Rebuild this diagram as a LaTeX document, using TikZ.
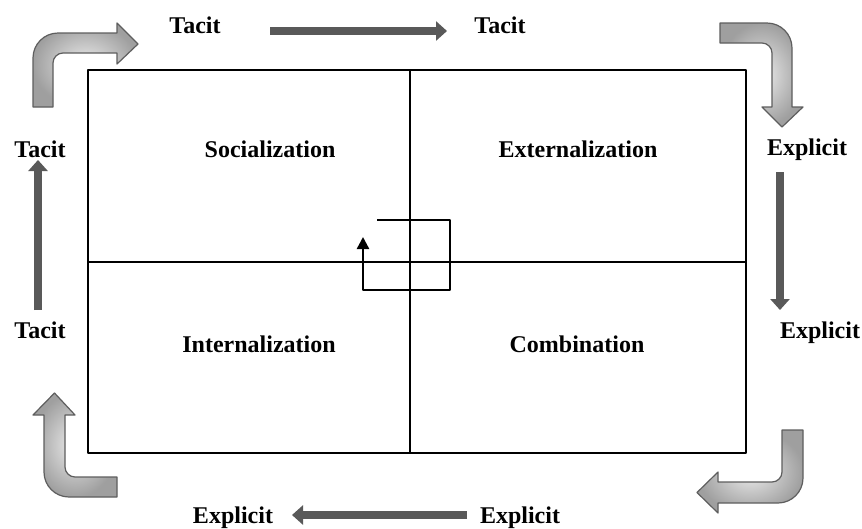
\documentclass[tikz,border=0pt]{standalone}
\usepackage{fontspec}
\setmainfont{Liberation Serif}
\usetikzlibrary{arrows.meta}
\definecolor{flowgray}{HTML}{595959}
\definecolor{bendrim}{HTML}{5E5E5E}

\tikzset{
  lbl/.style={font=\fontsize{24}{28}\selectfont\bfseries, inner sep=0pt, anchor=base},
  flow/.style={draw=flowgray, line width=8pt, -{Triangle[length=11pt,width=19pt]}},
  bendarrow/.style={draw=bendrim, line width=1.2pt, inner color=gray!15, outer color=gray!75},
  grid/.style={line width=2.6pt},
}

\begin{document}
\begin{tikzpicture}[x=1pt,y=-1pt,line join=round]
    \fill[white] (0,0) rectangle (862,527);
    % matrix
    \draw[grid] (88,70) rectangle (746,453);
    \draw[grid] (410,70) -- (410,453);
    \draw[grid] (88,262) -- (746,262);
    % spiral
    \draw[line width=2.4pt,-{Triangle[length=12pt,width=12pt]}] (377,220) -- (450,220) -- (450,290) -- (363,290) -- (363,237);
    % quadrant names
    \node[lbl] (soc) at (270,157) {Socialization};
    \node[lbl] (ext) at (578,157) {Externalization};
    \node[lbl] (intl) at (259,352) {Internalization};
    \node[lbl] (comb) at (577,352) {Combination};
    % side labels
    \node[lbl] (tacitTL) at (195,33) {Tacit};
    \node[lbl] (tacitTR) at (500,33) {Tacit};
    \node[lbl] (explRT) at (807,155) {Explicit};
    \node[lbl] (explRB) at (820,338) {Explicit};
    \node[lbl] (explBR) at (520,523) {Explicit};
    \node[lbl] (explBL) at (233,523) {Explicit};
    \node[lbl] (tacitLB) at (40,338) {Tacit};
    \node[lbl] (tacitLT) at (40,157) {Tacit};
    % straight flows
    \coordinate (topA) at (270,31);   \coordinate (topB) at (447,31);
    \coordinate (rgtA) at (780,172);  \coordinate (rgtB) at (780,310);
    \coordinate (botA) at (467,515);  \coordinate (botB) at (292,515);
    \coordinate (lftA) at (38,310);   \coordinate (lftB) at (38,160);
    \draw[flow] (topA) -- (topB);
    \draw[flow] (rgtA) -- (rgtB);
    \draw[flow] (botA) -- (botB);
    \draw[flow] (lftA) -- (lftB);
    % bent block arrows at the corners
    \shadedraw[bendarrow] (33,107) -- (33,58) .. controls (33,44.2) and (44.2,33) .. (58,33)
      -- (117,33) -- (117,23) -- (138,44) -- (117,64) -- (117,53) -- (63,53)
      .. controls (57.5,53) and (53,57.5) .. (53,63) -- (53,107) -- cycle;
    \shadedraw[bendarrow] (720,23) -- (767,23) .. controls (780.8,23) and (792,34.2) .. (792,48)
      -- (792,107) -- (803,107) -- (782,127) -- (762,107) -- (772,107) -- (772,53)
      .. controls (772,47.5) and (767.5,43) .. (762,43) -- (720,43) -- cycle;
    \shadedraw[bendarrow] (782,430) -- (803,430) -- (803,478) .. controls (803,491.8) and (791.8,503) .. (778,503)
      -- (718,503) -- (718,513) -- (697,492.5) -- (718,472) -- (718,482) -- (772,482)
      .. controls (777.5,482) and (782,477.5) .. (782,472) -- cycle;
    \shadedraw[bendarrow] (117,477) -- (75,477) .. controls (69.5,477) and (65,472.5) .. (65,467)
      -- (65,415) -- (75,415) -- (54.5,393) -- (33,415) -- (44,415) -- (44,472)
      .. controls (44,485.8) and (55.2,497) .. (69,497) -- (117,497) -- cycle;
\end{tikzpicture}
\end{document}
